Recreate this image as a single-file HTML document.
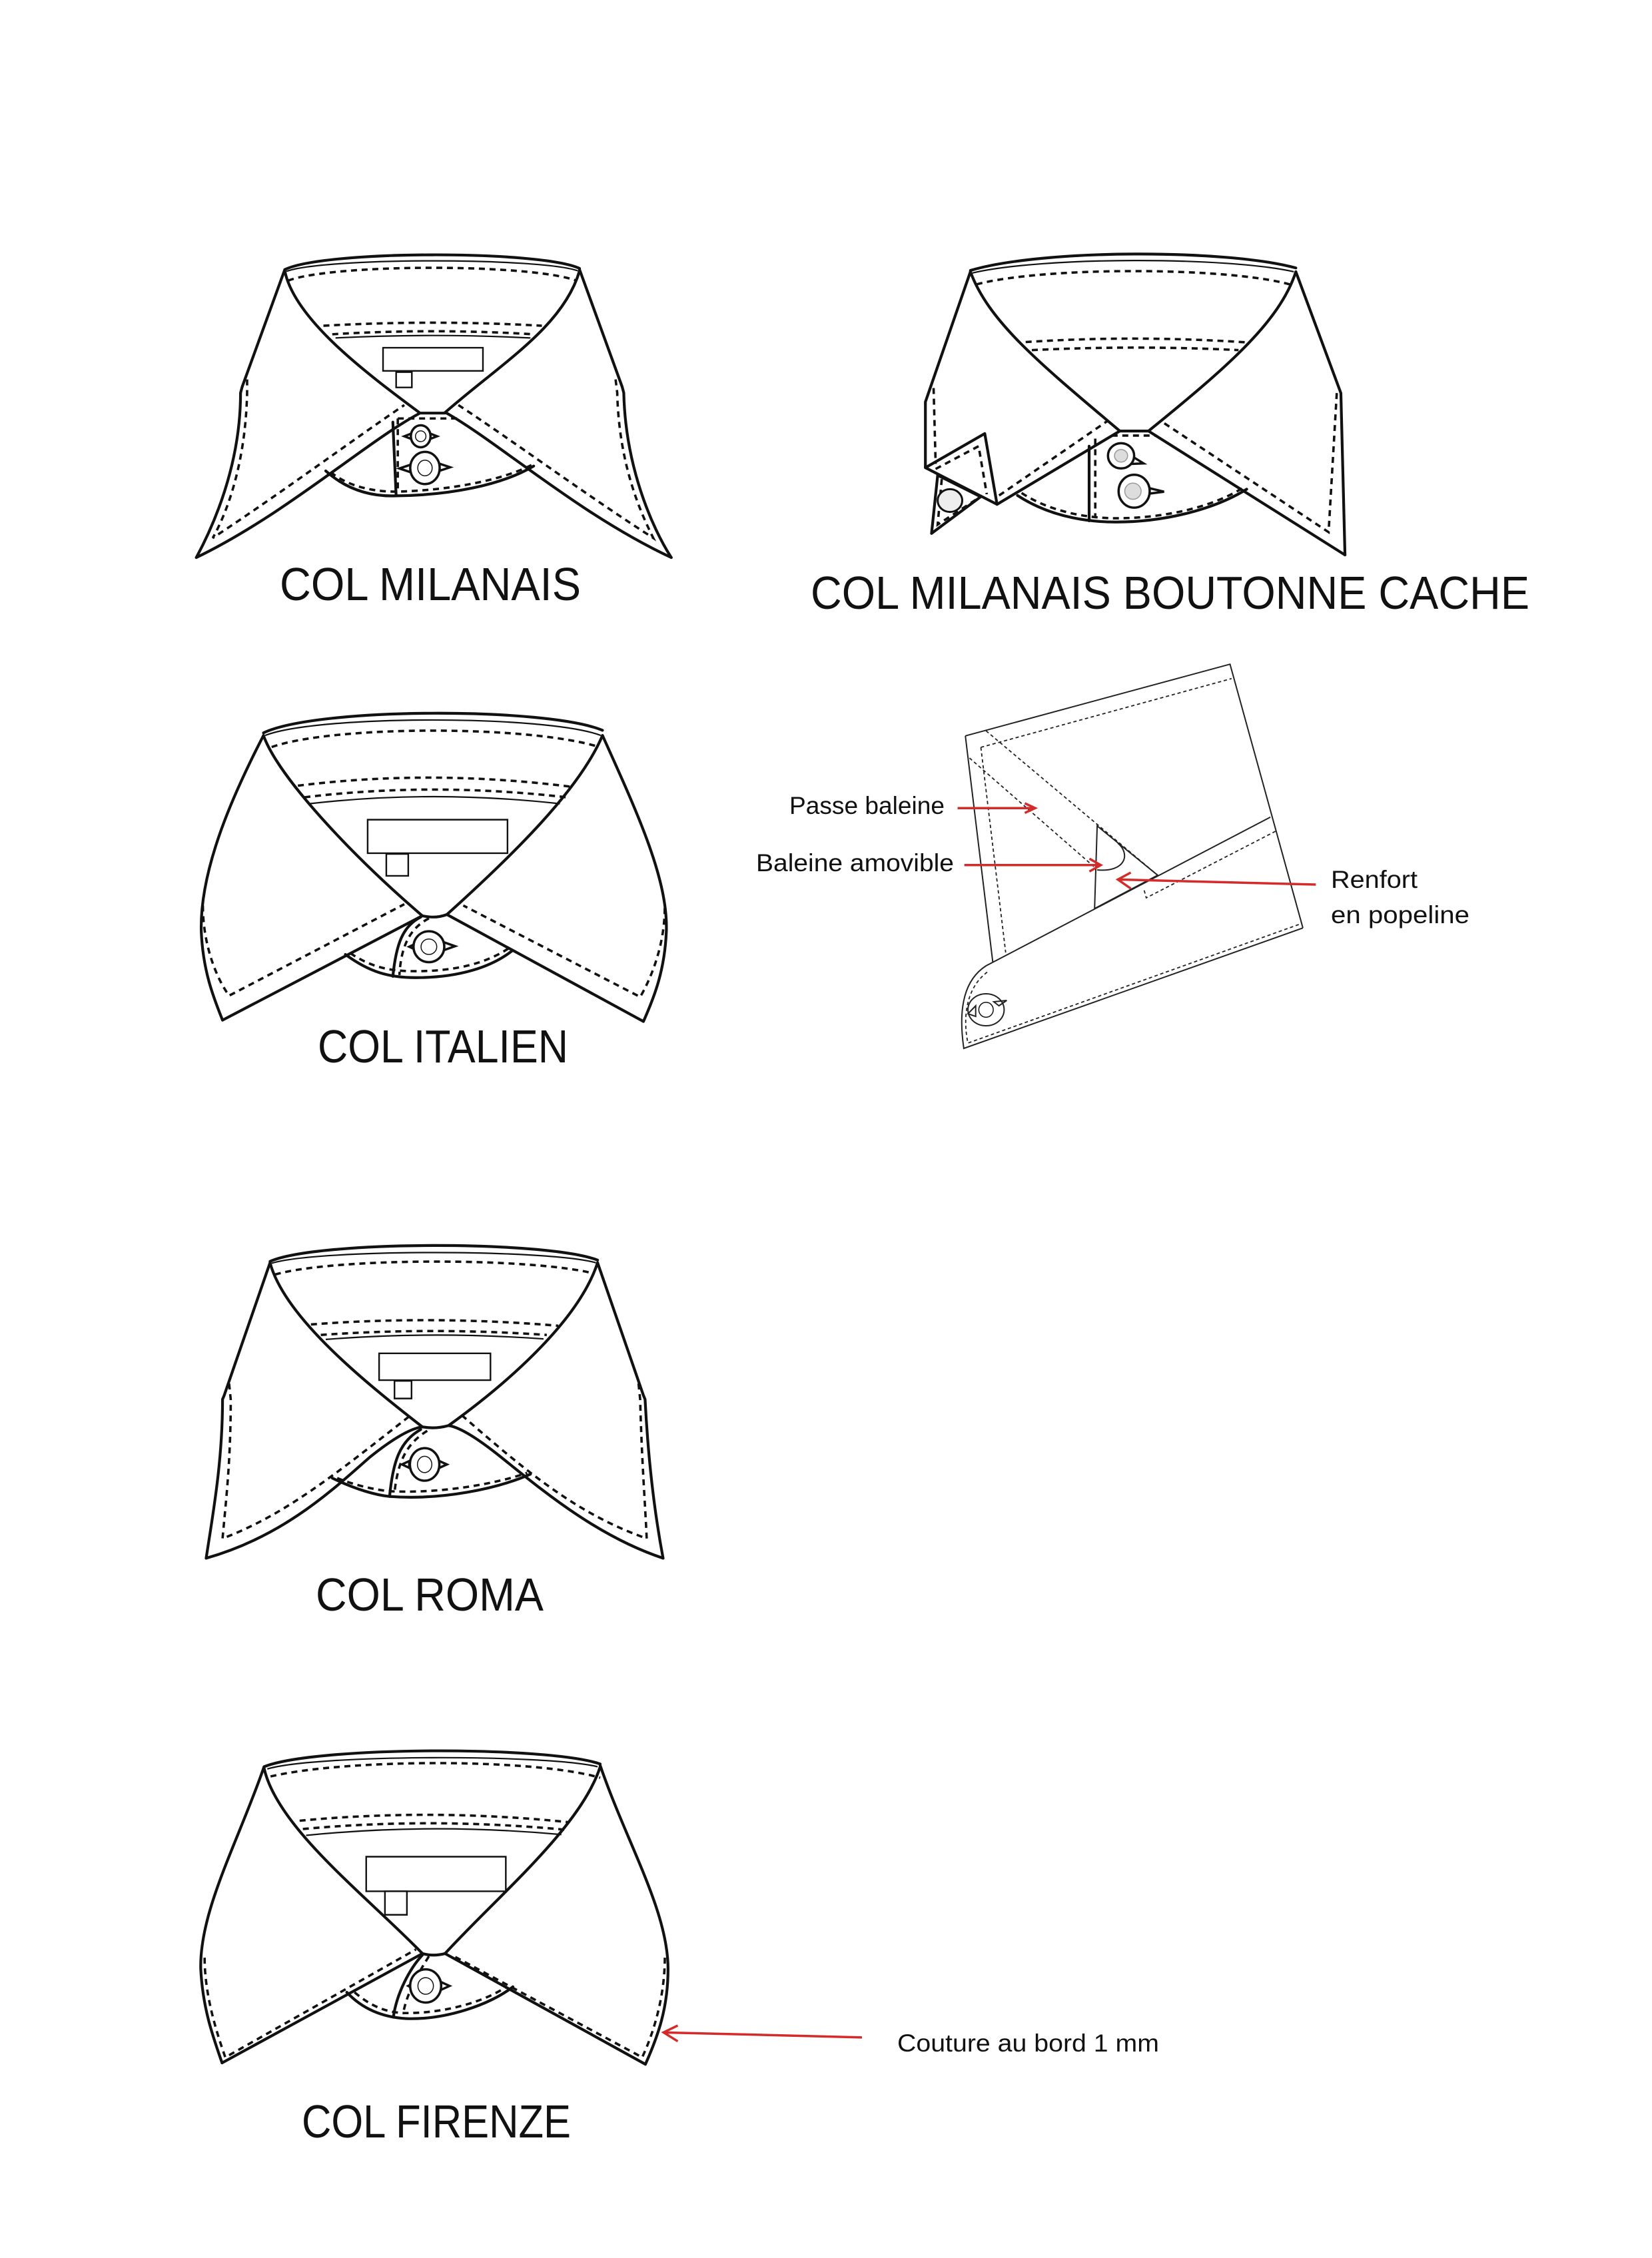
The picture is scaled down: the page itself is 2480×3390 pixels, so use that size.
<!DOCTYPE html>
<html><head><meta charset="utf-8"><style>html,body{margin:0;padding:0;background:#fff}svg{display:block}</style></head>
<body>
<svg width="2480" height="3390" viewBox="0 0 2480 3390" xmlns="http://www.w3.org/2000/svg" font-family="Liberation Sans, sans-serif">
<defs>
<style>
.m{fill:none;stroke:#111;stroke-width:4.2;vector-effect:non-scaling-stroke;stroke-linejoin:round;stroke-linecap:round}
.t{fill:none;stroke:#111;stroke-width:2.2;vector-effect:non-scaling-stroke}
.d{fill:none;stroke:#111;stroke-width:3.6;stroke-dasharray:9 7;vector-effect:non-scaling-stroke}
.r{fill:#fff;stroke:#111;stroke-width:2.4;vector-effect:non-scaling-stroke}
.w{fill:#fff;stroke:#111;stroke-width:4.2;vector-effect:non-scaling-stroke;stroke-linejoin:round}
.b{fill:#fff;stroke:#111;stroke-width:3.5;vector-effect:non-scaling-stroke}
.h{fill:none;stroke:#111;stroke-width:1.5;vector-effect:non-scaling-stroke}
.s{fill:none;stroke:#222;stroke-width:2;vector-effect:non-scaling-stroke}
.sd{fill:none;stroke:#222;stroke-width:1.8;stroke-dasharray:5 4;vector-effect:non-scaling-stroke}
.red{fill:none;stroke:#d42a2a;stroke-width:3.5;vector-effect:non-scaling-stroke}
.tt{font-size:70px;fill:#111}
.lb{font-size:37px;fill:#111}
</style>
</defs>
<rect width="2480" height="3390" fill="#fff"/>

<!-- COL MILANAIS -->
<g transform="translate(280,370) scale(0.4917,0.3663)">
<path class="m" d="M300,95 C420,15 1080,15 1200,90"/>
<path class="t" d="M305,102 C420,45 1080,45 1195,100"/>
<path class="d" d="M310,140 C450,70 1050,70 1190,140"/>
<path class="m" d="M300,95 L170,575 L165,600 C165,900 80,1150 30,1275"/>
<path class="m" d="M30,1275 C300,1100 550,800 710,685"/>
<path class="m" d="M300,100 C330,300 550,520 710,680"/>
<path class="m" d="M1200,95 L1330,575 L1335,600 C1340,900 1420,1150 1480,1275"/>
<path class="m" d="M1480,1275 C1200,1100 950,800 790,680"/>
<path class="m" d="M1200,100 C1150,330 960,480 790,680"/>
<path class="m" d="M710,683 L790,683"/>
<path class="d" d="M185,545 L185,600 C180,900 120,1100 80,1195 C300,1000 500,800 665,650"/>
<path class="d" d="M1310,545 L1315,600 C1320,900 1390,1100 1425,1195 C1200,1000 1000,800 830,650"/>
<path class="d" d="M418,325 Q750,300 1085,325"/>
<path class="d" d="M445,360 Q750,335 1060,360"/>
<path class="t" d="M455,375 Q750,355 1050,375"/>
<rect class="r" x="600" y="415" width="305" height="95"/>
<rect class="r" x="640" y="515" width="48" height="63"/>
<path class="m" d="M425,920 C500,1010 580,1025 640,1022 C800,1020 960,980 1060,900"/>
<path class="d" d="M440,925 C500,990 580,1005 640,1005 C800,1000 960,960 1055,895"/>
<path class="m" d="M630,720 L640,1022"/>
<path class="d" d="M645,705 L835,705 M645,705 L645,1000"/>
<path class="b" d="M665,778 L690,765 L690,791 Z M765,778 L740,765 L740,791 Z"/>
<ellipse class="b" cx="715" cy="778" rx="30" ry="45"/>
<ellipse class="h" cx="715" cy="778" rx="16" ry="22"/>
<path class="b" d="M650,910 L690,892 L690,928 Z M805,905 L765,887 L765,923 Z"/>
<ellipse class="b" cx="728" cy="908" rx="45" ry="66"/>
<ellipse class="h" cx="728" cy="908" rx="22" ry="32"/>
</g>
<text class="tt" x="420" y="901" textLength="452" lengthAdjust="spacingAndGlyphs">COL MILANAIS</text>

<!-- COL MILANAIS BOUTONNE CACHE -->
<g transform="translate(1380,370) scale(0.6145,0.3796)">
<path class="m" d="M125,95 C300,10 750,10 920,85"/>
<path class="t" d="M130,105 C300,40 750,40 915,100"/>
<path class="d" d="M140,150 C300,80 750,80 905,150"/>
<path class="m" d="M125,100 L15,615 L15,875"/>
<path class="w" d="M45,905 L30,1135 L150,990 Z"/>
<path class="d" d="M55,920 L45,1100 L140,1000"/>
<ellipse cx="75" cy="1005" rx="30" ry="45" fill="#eee" stroke="#111" stroke-width="3" vector-effect="non-scaling-stroke"/>
<path class="w" d="M15,875 L160,740 L190,1020 Z"/>
<path class="d" d="M40,880 L145,790 L165,980"/>
<path class="d" d="M35,560 L40,860"/>
<path class="m" d="M190,1020 L490,730"/>
<path class="d" d="M195,985 L460,690"/>
<path class="m" d="M125,100 C170,300 300,470 490,730"/>
<path class="m" d="M920,100 L1030,580 L1040,1220"/>
<path class="m" d="M1040,1220 L560,730"/>
<path class="m" d="M920,100 C880,300 750,480 560,730"/>
<path class="d" d="M1020,580 L1000,1130 L590,690"/>
<path class="m" d="M490,730 L560,730"/>
<path class="d" d="M260,378 Q530,350 805,380"/>
<path class="d" d="M275,410 Q530,390 780,410"/>
<path class="m" d="M240,985 C330,1080 430,1090 480,1090 C600,1090 720,1040 800,960"/>
<path class="d" d="M250,975 C330,1060 430,1075 480,1075 C600,1075 720,1030 795,950"/>
<path class="m" d="M415,790 L415,1085"/>
<path class="d" d="M430,760 L430,1075 M470,748 L580,748"/>
<path class="b" d="M520,830 L548,858 L520,860 Z"/>
<ellipse cx="493" cy="828" rx="32" ry="50" fill="#fff" stroke="#111" stroke-width="3.5" vector-effect="non-scaling-stroke"/>
<ellipse cx="493" cy="828" rx="16" ry="25" fill="#ddd" stroke="#999" stroke-width="1.5" vector-effect="non-scaling-stroke"/>
<path class="b" d="M560,955 L598,970 L560,978 Z"/>
<ellipse cx="525" cy="968" rx="38" ry="65" fill="#fff" stroke="#111" stroke-width="3.5" vector-effect="non-scaling-stroke"/>
<ellipse cx="522" cy="968" rx="20" ry="32" fill="#ddd" stroke="#999" stroke-width="1.5" vector-effect="non-scaling-stroke"/>
</g>
<text class="tt" x="1217" y="914" textLength="1079" lengthAdjust="spacingAndGlyphs">COL MILANAIS BOUTONNE CACHE</text>

<!-- COL ITALIEN -->
<g transform="translate(280,1050) scale(0.4917,0.3868)">
<path class="m" d="M235,130 C400,30 1100,30 1270,120"/>
<path class="t" d="M240,140 C400,60 1100,60 1265,140"/>
<path class="d" d="M260,185 C450,100 1050,100 1260,185"/>
<path class="m" d="M235,140 C150,350 40,650 45,900 C50,1050 80,1150 110,1245"/>
<path class="m" d="M110,1245 L720,840"/>
<path class="m" d="M235,140 C280,300 500,600 720,840"/>
<path class="m" d="M1270,140 C1380,450 1470,700 1465,900 C1460,1050 1430,1150 1395,1250"/>
<path class="m" d="M1395,1250 L795,835"/>
<path class="m" d="M1270,140 C1200,350 1000,600 795,835"/>
<path class="m" d="M720,840 Q760,852 795,835"/>
<path class="d" d="M50,800 C50,950 90,1080 130,1150 L665,795"/>
<path class="d" d="M1460,810 C1460,950 1420,1080 1385,1155 L845,800"/>
<path class="d" d="M340,335 Q750,270 1180,340"/>
<path class="d" d="M360,380 Q750,320 1160,380"/>
<path class="t" d="M375,405 Q750,350 1140,405"/>
<rect class="r" x="553" y="467" width="427" height="130"/>
<rect class="r" x="610" y="600" width="67" height="85"/>
<path class="m" d="M485,990 C560,1060 620,1080 700,1080 C830,1080 930,1040 995,975"/>
<path class="d" d="M500,985 C570,1045 630,1055 700,1055 C830,1055 920,1020 985,965"/>
<path class="m" d="M715,845 C660,880 640,950 630,1075"/>
<path class="d" d="M740,850 C680,890 655,960 650,1070"/>
<path class="b" d="M680,960 L700,948 L700,972 Z M820,958 L780,940 L780,976 Z"/>
<ellipse class="b" cx="740" cy="960" rx="47" ry="60"/>
<ellipse class="h" cx="740" cy="960" rx="24" ry="30"/>
</g>
<text class="tt" x="477" y="1595" textLength="376" lengthAdjust="spacingAndGlyphs">COL ITALIEN</text>

<!-- COL ROMA -->
<g transform="translate(280,1880) scale(0.4917,0.3943)">
<path class="m" d="M255,35 C400,-45 1100,-45 1255,30"/>
<path class="t" d="M260,42 C400,-12 1100,-12 1250,40"/>
<path class="d" d="M270,85 C450,20 1050,20 1240,80"/>
<path class="m" d="M255,40 L115,545 L110,560 C110,800 80,1000 60,1165"/>
<path class="m" d="M60,1165 C300,1080 450,900 560,780 C640,700 690,670 720,665"/>
<path class="m" d="M255,40 C300,250 550,500 720,665"/>
<path class="m" d="M1255,40 L1395,545 L1400,560 C1410,800 1430,1000 1455,1165"/>
<path class="m" d="M1455,1165 C1250,1080 1080,900 960,780 C880,700 830,665 800,660"/>
<path class="m" d="M1255,40 C1200,250 1000,480 800,660"/>
<path class="m" d="M720,665 Q760,674 800,660"/>
<path class="d" d="M130,500 L135,560 C135,800 120,950 110,1090 C300,1000 450,850 680,625"/>
<path class="d" d="M1380,500 L1385,560 C1390,800 1400,950 1405,1090 C1200,1000 1050,850 840,620"/>
<path class="d" d="M380,275 Q750,240 1135,280"/>
<path class="d" d="M410,315 Q750,285 1100,315"/>
<path class="t" d="M425,332 Q750,300 1090,330"/>
<rect class="r" x="588" y="385" width="340" height="102"/>
<rect class="r" x="635" y="490" width="52" height="67"/>
<path class="m" d="M445,860 C520,905 580,925 620,930 C780,945 950,900 1050,845"/>
<path class="d" d="M460,860 C520,890 580,905 620,910 C780,920 950,880 1040,840"/>
<path class="m" d="M715,675 C650,720 630,800 620,930"/>
<path class="d" d="M735,680 C670,730 645,800 635,915"/>
<path class="b" d="M658,808 L680,795 L680,821 Z M795,808 L770,794 L770,822 Z"/>
<ellipse class="b" cx="727" cy="808" rx="45" ry="62"/>
<ellipse class="h" cx="727" cy="808" rx="22" ry="31"/>
</g>
<text class="tt" x="474" y="2418" textLength="342" lengthAdjust="spacingAndGlyphs">COL ROMA</text>

<!-- COL FIRENZE -->
<g transform="translate(280,2640) scale(0.9703,0.4155)">
<path class="m" d="M120,30 C200,-45 560,-45 640,20"/>
<path class="t" d="M125,38 C200,-15 560,-15 636,30"/>
<path class="d" d="M130,65 C250,0 540,0 640,70"/>
<path class="m" d="M120,30 C80,300 20,550 22,760 C25,900 40,1000 55,1100"/>
<path class="m" d="M55,1100 L365,705"/>
<path class="m" d="M120,35 C140,250 280,500 365,705"/>
<path class="m" d="M640,25 C680,300 745,550 745,760 C745,900 730,1000 710,1105"/>
<path class="m" d="M710,1105 L400,705"/>
<path class="m" d="M640,30 C610,250 480,500 400,705"/>
<path class="m" d="M365,705 Q382,716 400,705"/>
<path class="d" d="M28,720 C28,850 45,980 60,1080 L355,690"/>
<path class="d" d="M740,720 C740,850 725,980 705,1080 L410,710"/>
<path class="d" d="M175,225 Q380,180 590,230"/>
<path class="d" d="M180,255 Q380,212 588,258"/>
<path class="t" d="M185,278 Q380,232 580,275"/>
<rect class="r" x="278" y="355" width="216" height="125"/>
<rect class="r" x="307" y="480" width="34" height="85"/>
<path class="m" d="M248,845 C270,900 300,935 340,940 C400,945 470,890 505,825"/>
<path class="d" d="M260,845 C285,895 310,920 340,920 C400,920 460,880 495,825"/>
<path class="m" d="M365,710 C345,760 325,850 320,935"/>
<path class="d" d="M375,715 C360,770 340,850 335,925"/>
<path class="b" d="M343,822 L352,810 L352,834 Z M407,822 L392,806 L392,838 Z"/>
<ellipse class="b" cx="370" cy="822" rx="24" ry="60"/>
<ellipse class="h" cx="370" cy="822" rx="12" ry="30"/>
<path class="red" d="M1045,1008 L738,990 M760,965 L738,990 L760,1022"/>
</g>
<text class="tt" x="453" y="3209" textLength="404" lengthAdjust="spacingAndGlyphs">COL FIRENZE</text>
<text class="lb" x="1347" y="3080" textLength="393" lengthAdjust="spacingAndGlyphs">Couture au bord 1 mm</text>

<!-- Detail diagram -->
<g transform="translate(1100,990) scale(0.776,0.4)">
<path class="s" d="M450,287 L962,18 L1103,1008"/>
<path class="s" d="M450,287 L503,1135"/>
<path class="sd" d="M480,330 L965,72"/>
<path class="sd" d="M480,330 L528,1100"/>
<path class="sd" d="M490,268 L822,810"/>
<path class="sd" d="M458,370 L700,780"/>
<path class="s" d="M705,625 L822,810 L700,935 Z"/>
<path class="s" d="M745,690 C770,730 760,800 705,790"/>
<path class="s" d="M1040,592 L490,1150 C450,1200 435,1300 447,1460 L1103,1008"/>
<path class="sd" d="M1050,645 L800,895 L795,860"/>
<path class="sd" d="M1095,995 L455,1440 C445,1350 450,1230 495,1170"/>
<path class="s" d="M455,1330 L470,1300 L470,1340 Z M530,1280 L515,1300 L505,1285 Z"/>
<ellipse class="s" cx="490" cy="1315" rx="35" ry="60" fill="#fff"/>
<ellipse class="h" cx="490" cy="1315" rx="14" ry="28"/>
<path class="red" d="M435,558 L585,558 M565,540 L585,558 L565,576"/>
<path class="red" d="M448,772 L712,772 M690,748 L712,772 L690,796"/>
<path class="red" d="M1128,845 L745,826 M770,800 L745,826 L770,860"/>
</g>
<text class="lb" x="1185" y="1222" textLength="233" lengthAdjust="spacingAndGlyphs">Passe baleine</text>
<text class="lb" x="1135" y="1308" textLength="297" lengthAdjust="spacingAndGlyphs">Baleine amovible</text>
<text class="lb" x="1998" y="1333" textLength="130" lengthAdjust="spacingAndGlyphs">Renfort</text>
<text class="lb" x="1998" y="1386" textLength="208" lengthAdjust="spacingAndGlyphs">en popeline</text>
</svg>
</body></html>
